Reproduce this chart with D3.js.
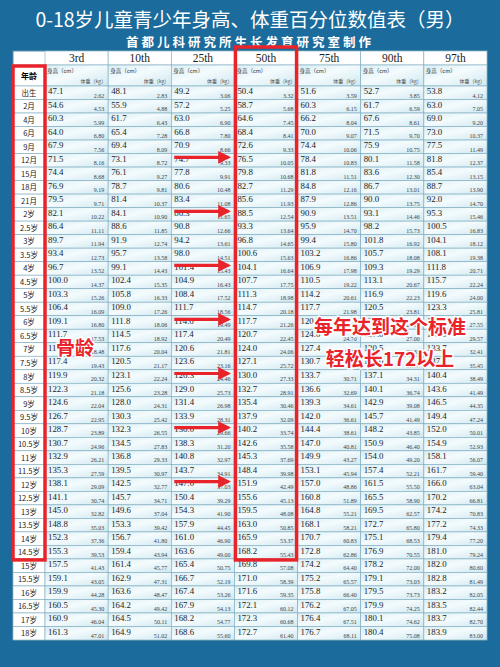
<!DOCTYPE html>
<html lang="zh">
<head>
<meta charset="UTF-8">
<title>0-18岁儿童青少年身高、体重百分位数值表（男）</title>
<script src="https://d3js.org/d3.v7.min.js"></script>
<style>
    body { margin: 0; background: #1b6c9c; }
    svg { display: block; }
</style>
</head>
<body>
<div id="chart"></div>
<script>
const ages = ["出生","2月","4月","6月","9月","12月","15月","18月","21月","2岁","2.5岁","3岁","3.5岁","4岁","4.5岁","5岁","5.5岁","6岁","6.5岁","7岁","7.5岁","8岁","8.5岁","9岁","9.5岁","10岁","10.5岁","11岁","11.5岁","12岁","12.5岁","13岁","13.5岁","14岁","14.5岁","15岁","15.5岁","16岁","16.5岁","17岁","18岁"];
const percentiles = ["3rd","10th","25th","50th","75th","90th","97th"];

const height = {
    "3rd": [47.1,54.6,60.3,64.0,67.9,71.5,74.4,76.9,79.5,82.1,86.4,89.7,93.4,96.7,100.0,103.3,106.4,109.1,111.7,114.6,117.4,119.9,122.3,124.6,126.7,128.7,130.7,132.9,135.3,138.1,141.1,145.0,148.8,152.3,155.3,157.5,159.1,159.9,160.5,160.9,161.3],
    "10th": [48.1,55.9,61.7,65.4,69.4,73.1,76.1,78.7,81.4,84.1,88.6,91.9,95.7,99.1,102.4,105.8,109.0,111.8,114.5,117.6,120.5,123.1,125.6,128.0,130.3,132.3,134.5,136.8,139.5,142.5,145.7,149.6,153.3,156.7,159.4,161.4,162.9,163.6,164.2,164.5,164.9],
    "25th": [49.2,57.2,63.0,66.8,70.9,74.7,77.8,80.6,83.4,86.3,90.8,94.2,98.0,101.4,104.9,108.4,111.7,114.6,117.4,120.6,123.6,126.3,129.0,131.4,133.9,136.0,138.3,140.8,143.7,147.0,150.4,154.3,157.9,161.0,163.6,165.4,166.7,167.4,167.9,168.2,168.6],
    "50th": [50.4,58.7,64.6,68.4,72.6,76.5,79.8,82.7,85.6,88.5,93.3,96.8,100.6,104.1,107.7,111.3,114.7,117.7,120.7,124.0,127.1,130.0,132.7,135.4,137.9,140.2,142.6,145.3,148.4,151.9,155.6,159.5,163.0,165.9,168.2,169.8,171.0,171.6,172.1,172.3,172.7],
    "75th": [51.6,60.3,66.2,70.0,74.4,78.4,81.8,84.8,87.9,90.9,95.9,99.4,103.2,106.9,110.5,114.2,117.7,120.9,124.0,127.4,130.7,133.7,136.6,139.3,142.0,144.4,147.0,149.9,153.1,157.0,160.8,164.8,168.1,170.7,172.8,174.2,175.2,175.8,176.2,176.4,176.7],
    "90th": [52.7,61.7,67.6,71.5,75.9,80.1,83.6,86.7,90.0,93.1,98.2,101.8,105.7,109.3,113.1,116.9,120.5,123.7,127.0,130.5,134.0,137.1,140.1,142.9,145.7,148.2,150.9,154.0,157.4,161.5,165.5,169.5,172.7,175.1,176.9,178.2,179.1,179.5,179.9,180.1,180.4],
    "97th": [53.8,63.0,69.0,73.0,77.5,81.8,85.4,88.7,92.0,95.3,100.5,104.1,108.1,111.8,115.7,119.6,123.3,126.6,130.0,133.7,137.4,140.4,143.6,146.5,149.4,152.0,154.9,158.1,161.7,166.0,170.2,174.2,177.2,179.4,181.0,182.0,182.8,183.2,183.5,183.7,183.9]
};
const weight = {
    "3rd": [2.62,4.53,5.99,6.80,7.56,8.16,8.68,9.19,9.71,10.22,11.11,11.94,12.73,13.52,14.37,15.26,16.09,16.80,17.53,18.48,19.43,20.32,21.18,22.04,22.95,23.89,24.96,26.21,27.59,29.09,30.74,32.82,35.03,37.36,39.53,41.43,43.05,44.28,45.30,46.04,47.01],
    "10th": [2.83,4.88,6.43,7.28,8.09,8.72,9.27,9.81,10.37,10.90,11.85,12.74,13.58,14.43,15.35,16.33,17.26,18.06,18.92,20.04,21.17,22.24,23.28,24.31,25.42,26.55,27.83,29.33,30.97,32.77,34.71,37.04,39.42,41.80,43.94,45.77,47.31,48.47,49.42,50.11,51.02],
    "25th": [3.06,5.25,6.90,7.80,8.66,9.33,9.91,10.48,11.08,11.65,12.66,13.61,14.51,15.43,16.43,17.52,18.56,19.49,20.49,21.81,23.16,24.46,25.73,26.98,28.31,29.66,31.20,32.97,34.91,37.03,39.29,41.90,44.45,46.90,49.00,50.75,52.19,53.26,54.13,54.77,55.60],
    "50th": [3.32,5.68,7.45,8.41,9.33,10.05,10.68,11.29,11.93,12.54,13.64,14.65,15.63,16.64,17.75,18.98,20.18,21.26,22.45,24.06,25.72,27.33,28.91,30.46,32.09,33.74,35.58,37.69,39.98,42.49,45.13,48.08,50.85,53.37,55.43,57.08,58.39,59.35,60.12,60.68,61.40],
    "75th": [3.59,6.15,8.04,9.07,10.06,10.83,11.51,12.16,12.86,13.51,14.70,15.80,16.86,17.98,19.22,20.61,21.98,23.26,24.70,26.66,28.51,30.71,32.69,34.61,36.61,38.61,40.81,43.27,45.94,48.86,51.89,55.21,58.21,60.83,62.86,64.40,65.57,66.40,67.05,67.51,68.11],
    "90th": [3.85,6.59,8.61,9.70,10.75,11.58,12.30,13.01,13.75,14.46,15.73,16.92,18.08,19.29,20.67,22.23,23.81,25.29,27.00,29.35,31.64,34.31,36.74,39.08,41.49,43.85,46.40,49.20,52.21,55.50,58.90,62.57,65.80,68.53,70.55,72.00,73.03,73.73,74.25,74.62,75.08],
    "97th": [4.12,7.05,9.20,10.37,11.49,12.37,13.15,13.90,14.70,15.46,16.83,18.12,19.38,20.71,22.24,24.00,25.81,27.55,29.57,32.41,35.45,38.49,41.49,44.35,47.24,50.01,52.93,56.07,59.40,63.04,66.81,70.83,74.33,77.20,79.24,80.60,81.49,82.05,82.44,82.70,83.00]
};
// rows marked with a red arrow
const arrowRows = ["12月","2岁","4岁","6岁","8岁","10岁","12岁"];

const W = 500, H = 667;
const svg = d3.select("#chart").append("svg").attr("width", W).attr("height", H);
const serif = "'Liberation Serif', 'DejaVu Serif', serif";
const sans = "'Noto Sans CJK SC', 'Noto Sans', sans-serif";

const defs = svg.append("defs");
const grad = defs.append("linearGradient").attr("id", "cell")
    .attr("x1", "0%").attr("y1", "0%").attr("x2", "100%").attr("y2", "100%");
grad.append("stop").attr("offset", "0%").attr("stop-color", "#d8eef5");
grad.append("stop").attr("offset", "45%").attr("stop-color", "#f4fbfd");
grad.append("stop").attr("offset", "100%").attr("stop-color", "#cfe8f1");

svg.append("rect").attr("width", W).attr("height", H).attr("fill", "#1b6c9c");

svg.append("text").attr("x", W / 2).attr("y", 27).attr("text-anchor", "middle")
    .attr("fill", "#fff").attr("font-family", sans).attr("font-size", 19.5)
    .text("0-18岁儿童青少年身高、体重百分位数值表（男）");
svg.append("text").attr("x", W / 2).attr("y", 47).attr("text-anchor", "middle")
    .attr("fill", "#fff").attr("font-family", sans).attr("font-size", 12.5)
    .attr("letter-spacing", 3).attr("font-weight", "bold")
    .text("首都儿科研究所生长发育研究室制作");

// first column narrower
const ageW = 32;
const px = d3.scaleBand().domain(percentiles).range([13 + ageW, 487]);
const y = d3.scaleBand().domain(ages).range([86, 640]);
const top0 = 51, top1 = 65;

const g = svg.append("g");
g.append("rect").attr("x", 13).attr("y", top0).attr("width", 474).attr("height", 640 - top0)
    .attr("fill", "#fff").attr("stroke", "#5a8fa8");

// header
percentiles.forEach(p => {
    g.append("rect").attr("x", px(p)).attr("y", top0).attr("width", px.bandwidth()).attr("height", top1 - top0)
        .attr("fill", "#fff").attr("stroke", "#7aa9bd").attr("stroke-width", 0.6);
    g.append("text").attr("x", px(p) + px.bandwidth() / 2).attr("y", top1 - 3).attr("text-anchor", "middle")
        .attr("font-family", serif).attr("font-size", 11.5).attr("fill", "#222").text(p);
    g.append("rect").attr("x", px(p)).attr("y", top1).attr("width", px.bandwidth()).attr("height", 86 - top1)
        .attr("fill", "url(#cell)").attr("stroke", "#7aa9bd").attr("stroke-width", 0.6);
    g.append("text").attr("x", px(p) + 2).attr("y", top1 + 8).attr("font-family", sans)
        .attr("font-size", 5.5).attr("fill", "#333").text("身高（cm）");
    g.append("text").attr("x", px(p) + px.bandwidth() - 2).attr("y", top1 + 18).attr("text-anchor", "end")
        .attr("font-family", sans).attr("font-size", 5).attr("fill", "#555").text("体重（kg）");
});
g.append("rect").attr("x", 13).attr("y", top1).attr("width", ageW).attr("height", 86 - top1)
    .attr("fill", "#fff").attr("stroke", "#7aa9bd").attr("stroke-width", 0.6);
g.append("text").attr("x", 13 + ageW / 2).attr("y", 79).attr("text-anchor", "middle")
    .attr("font-family", sans).attr("font-size", 8).attr("font-weight", "bold").text("年龄");

// rows
const rows = g.selectAll("g.row").data(ages).join("g").attr("class", "row")
    .attr("transform", d => `translate(0,${y(d)})`);
rows.append("rect").attr("x", 13).attr("width", ageW).attr("height", y.bandwidth())
    .attr("fill", "#fff").attr("stroke", "#7aa9bd").attr("stroke-width", 0.6);
rows.append("text").attr("x", 13 + ageW / 2).attr("y", y.bandwidth() / 2 + 3)
    .attr("text-anchor", "middle").attr("font-family", sans).attr("font-size", 7.5)
    .attr("fill", "#222").text(d => d);

percentiles.forEach(p => {
    rows.append("rect").attr("x", px(p)).attr("width", px.bandwidth()).attr("height", y.bandwidth())
        .attr("fill", "url(#cell)").attr("stroke", "#7aa9bd").attr("stroke-width", 0.6);
    rows.append("text").attr("x", px(p) + 3).attr("y", y.bandwidth() / 2 + 1.5)
        .attr("font-family", serif).attr("font-size", 8.8).attr("fill", "#222")
        .text((d, i) => height[p][i].toFixed(1));
    rows.append("text").attr("x", px(p) + px.bandwidth() - 4).attr("y", y.bandwidth() - 2)
        .attr("text-anchor", "end").attr("font-family", serif).attr("font-size", 6).attr("fill", "#444")
        .text((d, i) => weight[p][i].toFixed(2));
});

// red highlight boxes
const redBottom = y("14.5岁") + y.bandwidth() + 1;
svg.append("rect").attr("x", 13).attr("y", top1 + 1).attr("width", ageW).attr("height", redBottom - top1 - 1)
    .attr("fill", "none").attr("stroke", "#e8232a").attr("stroke-width", 3.5);
svg.append("rect").attr("x", px("50th") + 1).attr("y", top0 - 4).attr("width", px.bandwidth() - 2)
    .attr("height", redBottom - top0 + 4)
    .attr("fill", "none").attr("stroke", "#e8232a").attr("stroke-width", 3.5);

// arrows
defs.append("marker").attr("id", "ah").attr("viewBox", "0 0 10 10").attr("refX", 8).attr("refY", 5)
    .attr("markerWidth", 4).attr("markerHeight", 4.5).attr("orient", "auto")
    .append("path").attr("d", "M0,0L10,5L0,10z").attr("fill", "#e8232a");
arrowRows.forEach(a => {
    const yy = y(a) + y.bandwidth() / 2 - 3;
    svg.append("line").attr("x1", px("25th") + 3).attr("x2", px("25th") + px.bandwidth() - 6)
        .attr("y1", yy).attr("y2", yy).attr("stroke", "#e8232a").attr("stroke-width", 3.2)
        .attr("marker-end", "url(#ah)");
});

// callout texts
function callout(t, cx, cy, size) {
    svg.append("text").attr("x", cx).attr("y", cy).attr("text-anchor", "middle")
        .attr("font-family", sans).attr("font-weight", "bold").attr("font-size", size)
        .attr("fill", "#e8232a").attr("stroke", "#fff").attr("stroke-width", 3)
        .attr("paint-order", "stroke").text(t);
}
callout("骨龄", 75, 355, 19);
callout("每年达到这个标准", 390, 334, 19);
callout("轻松长172以上", 390, 366, 19);
</script>
</body>
</html>
